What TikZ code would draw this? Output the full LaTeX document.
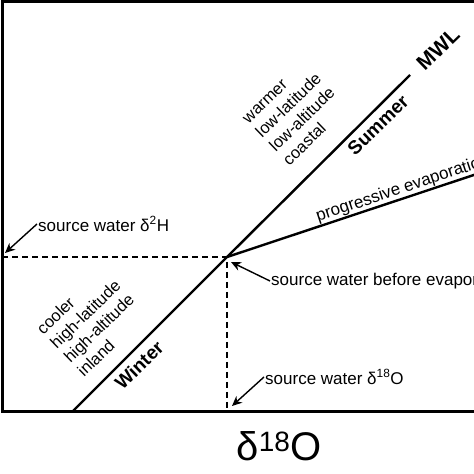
\documentclass[tikz,border=0pt]{standalone}
\usepackage{fontspec}
\setmainfont{Liberation Sans}
\usetikzlibrary{arrows.meta}

\begin{document}
\begin{tikzpicture}[x=1pt,y=1pt]
\tikzstyle{every node}=[font=\fontsize{17}{19}\selectfont,inner sep=1pt];
\tikzstyle{season}=[font=\fontsize{19}{21}\selectfont\bfseries,rotate=44];
\tikzstyle{trend}=[line width=2.4pt];
\tikzstyle{guide}=[line width=1.1pt,dash pattern=on 6pt off 4pt];
\tikzstyle{ptr}=[line width=1.4pt,-{Stealth[length=10pt,width=9pt]}];
\useasboundingbox (0,0) rectangle (474,474);
\clip (0,0) rectangle (474,474);
% axes
\draw[line width=3pt] (480,472) -- (2,472) -- (2,62) -- (480,62);
% key points
\coordinate (o) at (72,62);
\coordinate (src) at (227,217);
\coordinate (mwlend) at (410,399);
\coordinate (evapend) at (540,321);
\coordinate (h2ax) at (5,221);
\coordinate (o18ax) at (232,68);
\coordinate (srctip) at (231,212);
% lines
\draw[trend] (o) -- (src) -- (mwlend);
\draw[trend] (src) -- (evapend);
\draw[guide] (2,217) -- (src) -- (227,62);
% labels
\node[season,font=\fontsize{21}{23}\selectfont\bfseries] (mwl) at (438,425) {MWL};
\node[season] (summer) at (378,349) {Summer};
\node[season] (winter) at (139,109) {Winter};
\node[rotate=44,align=left,font=\fontsize{16.5}{19.5}\selectfont] (warm) at (296,361) {warmer\\low-latitude\\low-altitude\\coastal};
\node[rotate=44,align=left,font=\fontsize{16.5}{19.5}\selectfont] (cool) at (92,153) {cooler\\high-latitude\\high-altitude\\inland};
\node[rotate=18.4,anchor=base west] (evap) at (317,252) {progressive evaporation};
\node[anchor=west] (h2) at (37,250) {source water δ\textsuperscript{2}H};
\node[anchor=west] (before) at (270,193) {source water before evaporation};
\node[anchor=west] (o18) at (264,97) {source water δ\textsuperscript{18}O};
\node[anchor=base,font=\fontsize{40}{42}\selectfont] (xlab) at (279,13) {δ\textsuperscript{18}O};
% pointers
\draw[ptr] (h2.west) -- (h2ax);
\draw[ptr] (before.west) -- (srctip);
\draw[ptr] (o18.west) -- (o18ax);
\end{tikzpicture}
\end{document}
